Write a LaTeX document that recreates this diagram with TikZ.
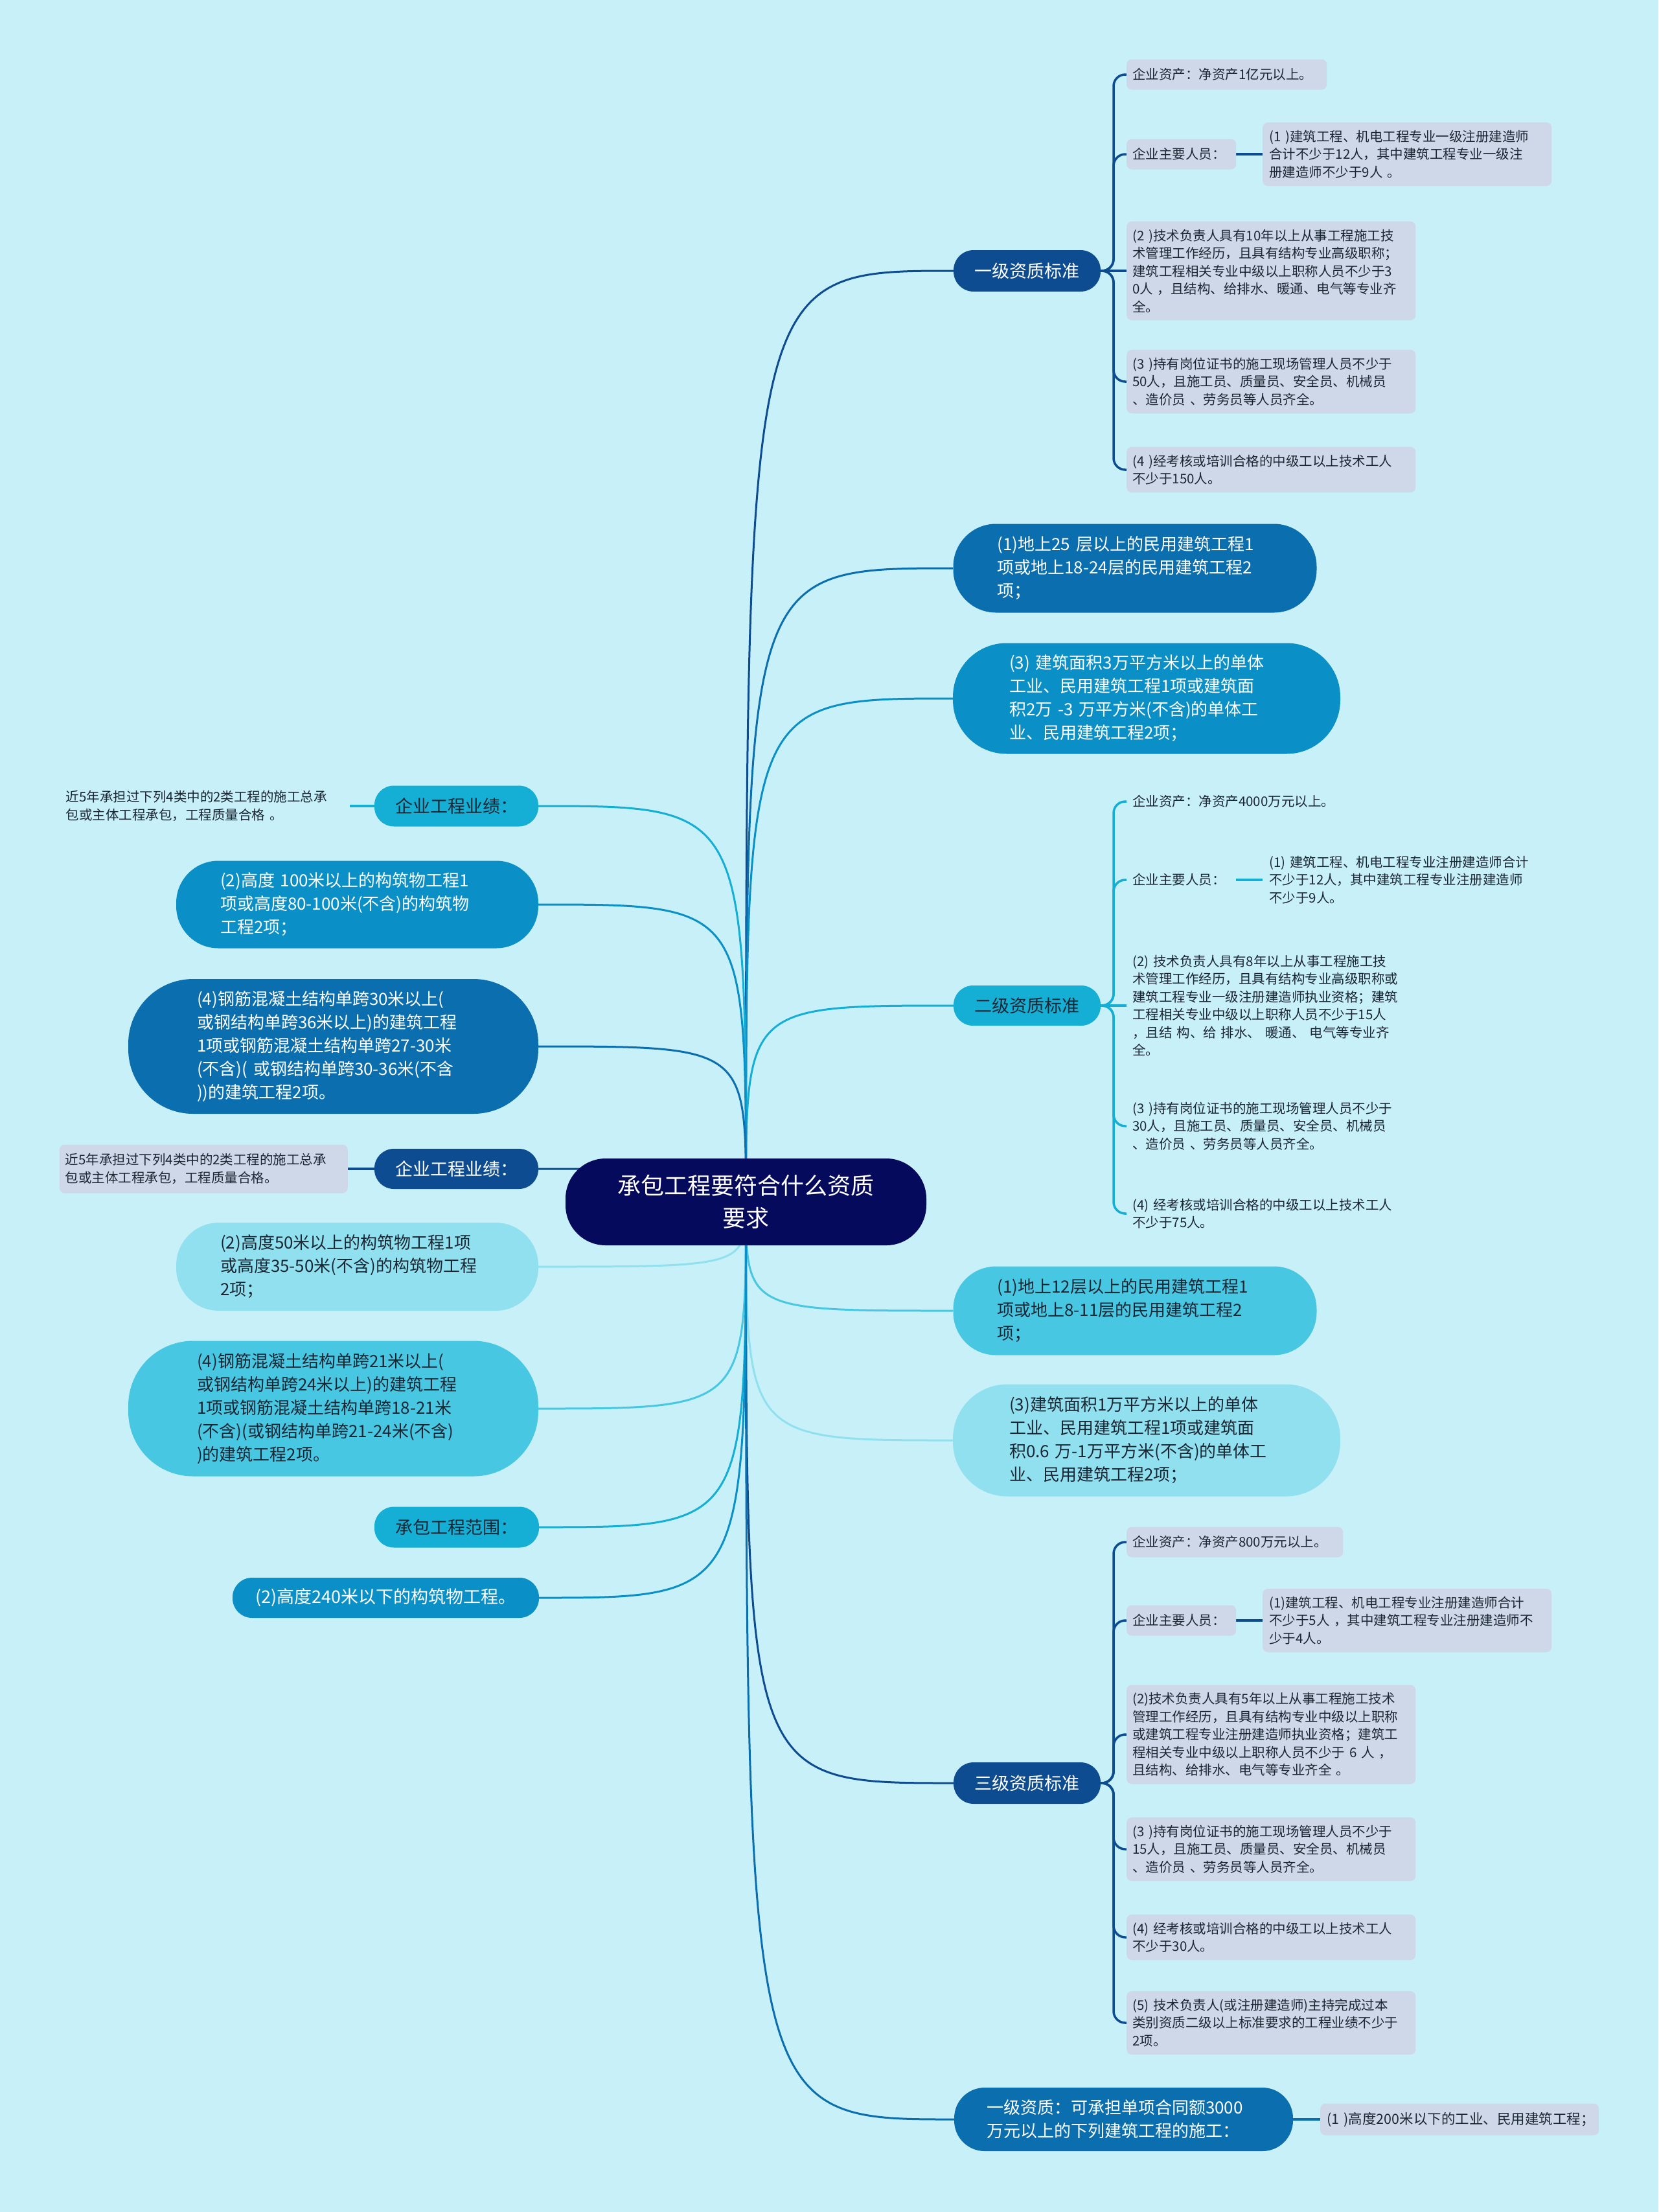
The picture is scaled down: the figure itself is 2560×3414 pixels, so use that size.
\documentclass[tikz,border=0pt]{standalone}
\usepackage{fontspec}
\setmainfont{Noto Sans CJK SC}
\pgfdeclarelayer{back}
\pgfdeclarelayer{lines}
\pgfsetlayers{back,lines,main}
\definecolor{bgc}{HTML}{C8F0F8}
\definecolor{navy}{HTML}{050A5C}
\definecolor{cdark}{HTML}{0E4C91}
\definecolor{cmed}{HTML}{0B6EAE}
\definecolor{cblue}{HTML}{0A90C6}
\definecolor{ccyan}{HTML}{15AED4}
\definecolor{clight}{HTML}{48C7E3}
\definecolor{cpale}{HTML}{90E0EF}
\definecolor{leafbg}{HTML}{CFD8E8}
\definecolor{txtdark}{HTML}{1B2633}
\tikzset{
  big/.style={font=\fontsize{26}{36}\selectfont, align=left, inner ysep=0pt},
  one/.style={font=\fontsize{27}{32}\selectfont, align=center, inner sep=0pt},
  leaf/.style={font=\fontsize{20.5}{27.5}\selectfont, text=txtdark, align=left, inner xsep=9pt, inner ysep=12pt, anchor=west},
  leafbox/.style={leaf, fill=leafbg, rounded corners=8pt},
  link/.style={line width=3pt},
  tree/.style={line width=3.5pt, rounded corners=18pt},
}
\begin{document}
\begin{tikzpicture}[x=1pt,y=-1pt]
\begin{pgfonlayer}{back}
\fill[bgc] (0,0) rectangle (2560,3414);
\end{pgfonlayer}
\useasboundingbox (0,0) rectangle (2560,3414);

% root
\node[fill=navy, text=white, font=\fontsize{36}{50}\selectfont, align=center, inner sep=0pt,
  minimum width=557pt, minimum height=134pt, rounded corners=62pt] (C) at (1151.5,1855)
  {承包工程要符合什么资质\\要求};

% right level-1
\node[one, fill=cdark, text=white, minimum width=227pt, minimum height=64pt, rounded corners=31pt] (R1) at (1585.5,418) {一级资质标准};
\node[big, fill=cmed, text=white, text width=425pt, inner xsep=68pt, minimum height=137pt, rounded corners=66pt] (R2) at (1752,877)
  {(1)地上25 层以上的民用建筑工程1\\项或地上18-24层的民用建筑工程2\\项；};
\node[big, fill=cblue, text=white, text width=424pt, inner xsep=87pt, minimum height=171pt, rounded corners=83pt] (R3) at (1770,1078)
  {(3) 建筑面积3万平方米以上的单体\\工业、民用建筑工程1项或建筑面\\积2万 -3 万平方米(不含)的单体工\\业、民用建筑工程2项；};
\node[one, fill=ccyan, text=txtdark, minimum width=227pt, minimum height=62pt, rounded corners=30pt] (R4) at (1585.5,1552) {二级资质标准};
\node[big, fill=clight, text=txtdark, text width=425pt, inner xsep=68pt, minimum height=137pt, rounded corners=66pt] (R5) at (1752,2023)
  {(1)地上12层以上的民用建筑工程1\\项或地上8-11层的民用建筑工程2\\项；};
\node[big, fill=cpale, text=txtdark, text width=424pt, inner xsep=87pt, minimum height=173pt, rounded corners=84pt] (R6) at (1770,2223)
  {(3)建筑面积1万平方米以上的单体\\工业、民用建筑工程1项或建筑面\\积0.6 万-1万平方米(不含)的单体工\\业、民用建筑工程2项；};
\node[one, fill=cdark, text=white, minimum width=227pt, minimum height=64pt, rounded corners=31pt] (R7) at (1585.5,2752) {三级资质标准};
\node[big, fill=cmed, text=white, text width=423pt, inner xsep=50pt, minimum height=98pt, rounded corners=47pt] (R8) at (1734.5,3271)
  {一级资质：可承担单项合同额3000\\万元以上的下列建筑工程的施工：};

% left level-1
\node[one, fill=ccyan, text=txtdark, minimum width=253pt, minimum height=63pt, rounded corners=30pt] (Lf1) at (704.5,1244) {企业工程业绩：};
\node[big, fill=cblue, text=white, text width=423pt, inner xsep=68pt, minimum height=135pt, rounded corners=65pt] (Lf2) at (551.5,1396)
  {(2)高度 100米以上的构筑物工程1\\项或高度80-100米(不含)的构筑物\\工程2项；};
\node[big, fill=cmed, text=white, text width=421pt, inner xsep=106pt, minimum height=208pt, rounded corners=100pt] (Lf3) at (514.5,1615)
  {(4)钢筋混凝土结构单跨30米以上(\\或钢结构单跨36米以上)的建筑工程\\1项或钢筋混凝土结构单跨27-30米\\(不含)( 或钢结构单跨30-36米(不含\\))的建筑工程2项。};
\node[one, fill=cdark, text=white, minimum width=253pt, minimum height=62pt, rounded corners=30pt] (Lf4) at (704.5,1804) {企业工程业绩：};
\node[big, fill=cpale, text=txtdark, text width=423pt, inner xsep=68pt, minimum height=136pt, rounded corners=66pt] (Lf5) at (551.5,1955)
  {(2)高度50米以上的构筑物工程1项\\或高度35-50米(不含)的构筑物工程\\2项；};
\node[big, fill=clight, text=txtdark, text width=421pt, inner xsep=106pt, minimum height=209pt, rounded corners=100pt] (Lf6) at (514.5,2174)
  {(4)钢筋混凝土结构单跨21米以上(\\或钢结构单跨24米以上)的建筑工程\\1项或钢筋混凝土结构单跨18-21米\\(不含)(或钢结构单跨21-24米(不含)\\)的建筑工程2项。};
\node[one, fill=ccyan, text=txtdark, minimum width=254pt, minimum height=63pt, rounded corners=30pt] (Lf7) at (705,2357) {承包工程范围：};
\node[one, fill=cblue, text=white, minimum width=473pt, minimum height=62pt, rounded corners=30pt] (Lf8) at (595.5,2466) {(2)高度240米以下的构筑物工程。};

% leaves of R1
\node[leafbox, text width=291pt, minimum height=47pt] (L1a) at (1739,115) {企业资产：净资产1亿元以上。};
\node[leafbox, text width=151pt, minimum height=47pt] (L1b) at (1739,238) {企业主要人员：};
\node[leafbox, text width=426pt, inner xsep=10pt] (L1b1) at (1949,238)
  {(1 )建筑工程、机电工程专业一级注册建造师\\合计不少于12人，其中建筑工程专业一级注\\册建造师不少于9人 。};
\node[leafbox, text width=428pt] (L1c) at (1739,418)
  {(2 )技术负责人具有10年以上从事工程施工技\\术管理工作经历，且具有结构专业高级职称；\\建筑工程相关专业中级以上职称人员不少于3\\0人 ，且结构、给排水、暖通、电气等专业齐\\全。};
\node[leafbox, text width=428pt] (L1d) at (1739,589)
  {(3 )持有岗位证书的施工现场管理人员不少于\\50人，且施工员、质量员、安全员、机械员\\、造价员 、劳务员等人员齐全。};
\node[leafbox, text width=428pt] (L1e) at (1739,725)
  {(4 )经考核或培训合格的中级工以上技术工人\\不少于150人。};

% leaves of R4
\node[leaf, text width=360pt] (L2a) at (1739,1237) {企业资产：净资产4000万元以上。};
\node[leaf, text width=151pt] (L2b) at (1739,1358) {企业主要人员：};
\node[leaf, text width=426pt, inner xsep=10pt] (L2b1) at (1949,1358)
  {(1) 建筑工程、机电工程专业注册建造师合计\\不少于12人，其中建筑工程专业注册建造师\\不少于9人。};
\node[leaf, text width=428pt] (L2c) at (1739,1552)
  {(2) 技术负责人具有8年以上从事工程施工技\\术管理工作经历，且具有结构专业高级职称或\\建筑工程专业一级注册建造师执业资格；建筑\\工程相关专业中级以上职称人员不少于15人\\，且结 构、给 排水、 暖通、 电气等专业齐\\全。};
\node[leaf, text width=428pt] (L2d) at (1739,1738)
  {(3 )持有岗位证书的施工现场管理人员不少于\\30人，且施工员、质量员、安全员、机械员\\、造价员 、劳务员等人员齐全。};
\node[leaf, text width=428pt] (L2e) at (1739,1873)
  {(4) 经考核或培训合格的中级工以上技术工人\\不少于75人。};

% leaves of R7
\node[leafbox, text width=316pt, minimum height=47pt] (L3a) at (1739,2380) {企业资产：净资产800万元以上。};
\node[leafbox, text width=151pt, minimum height=47pt] (L3b) at (1739,2501) {企业主要人员：};
\node[leafbox, text width=426pt, inner xsep=10pt] (L3b1) at (1949,2501)
  {(1)建筑工程、机电工程专业注册建造师合计\\不少于5人 ，其中建筑工程专业注册建造师不\\少于4人。};
\node[leafbox, text width=428pt] (L3c) at (1739,2677)
  {(2)技术负责人具有5年以上从事工程施工技术\\管理工作经历，且具有结构专业中级以上职称\\或建筑工程专业注册建造师执业资格；建筑工\\程相关专业中级以上职称人员不少于 6 人 ，\\且结构、给排水、电气等专业齐全 。};
\node[leafbox, text width=428pt] (L3d) at (1739,2854)
  {(3 )持有岗位证书的施工现场管理人员不少于\\15人，且施工员、质量员、安全员、机械员\\、造价员 、劳务员等人员齐全。};
\node[leafbox, text width=428pt] (L3e) at (1739,2990)
  {(4) 经考核或培训合格的中级工以上技术工人\\不少于30人。};
\node[leafbox, text width=428pt] (L3f) at (1739,3122)
  {(5) 技术负责人(或注册建造师)主持完成过本\\类别资质二级以上标准要求的工程业绩不少于\\2项。};

% leaf of R8
\node[leafbox, text width=410pt, inner xsep=10pt, minimum height=49pt, font=\fontsize{21.5}{27.5}\selectfont] (L8a) at (2038,3271)
  {(1 )高度200米以下的工业、民用建筑工程；};

% leaves on left
\node[leaf, anchor=east, text width=429pt] (Lf1a) at (540,1244)
  {近5年承担过下列4类中的2类工程的施工总承\\包或主体工程承包，工程质量合格 。};
\node[leafbox, anchor=east, text width=427pt, minimum height=75pt] (Lf4a) at (537,1804)
  {近5年承担过下列4类中的2类工程的施工总承\\包或主体工程承包，工程质量合格。};

\coordinate (sp1) at (1719,418);
\coordinate (sp4) at (1719,1552);
\coordinate (sp7) at (1719,2752);

\begin{pgfonlayer}{lines}
% root links, right
\draw[link, cdark]  (C.center) .. controls (C.center |- R1.west) and (C.center |- R1.west) .. (R1.west);
\draw[link, cmed]   (C.center) .. controls (C.center |- R2.west) and (C.center |- R2.west) .. (R2.west);
\draw[link, cblue]  (C.center) .. controls (C.center |- R3.west) and (C.center |- R3.west) .. (R3.west);
\draw[link, ccyan]  (C.center) .. controls (C.center |- R4.west) and (C.center |- R4.west) .. (R4.west);
\draw[link, clight] (C.center) .. controls (C.center |- R5.west) and (C.center |- R5.west) .. (R5.west);
\draw[link, cpale]  (C.center) .. controls (C.center |- R6.west) and (C.center |- R6.west) .. (R6.west);
\draw[link, cdark]  (C.center) .. controls (C.center |- R7.west) and (C.center |- R7.west) .. (R7.west);
\draw[link, cmed]   (C.center) .. controls (C.center |- R8.west) and (C.center |- R8.west) .. (R8.west);
% root links, left
\draw[link, ccyan]  (C.center) .. controls (C.center |- Lf1.east) and (C.center |- Lf1.east) .. (Lf1.east);
\draw[link, cblue]  (C.center) .. controls (C.center |- Lf2.east) and (C.center |- Lf2.east) .. (Lf2.east);
\draw[link, cmed]   (C.center) .. controls (C.center |- Lf3.east) and (C.center |- Lf3.east) .. (Lf3.east);
\draw[link, cdark]  (C.center) .. controls (C.center |- Lf4.east) and (C.center |- Lf4.east) .. (Lf4.east);
\draw[link, cpale]  (C.center) .. controls (C.center |- Lf5.east) and (C.center |- Lf5.east) .. (Lf5.east);
\draw[link, clight] (C.center) .. controls (C.center |- Lf6.east) and (C.center |- Lf6.east) .. (Lf6.east);
\draw[link, ccyan]  (C.center) .. controls (C.center |- Lf7.east) and (C.center |- Lf7.east) .. (Lf7.east);
\draw[link, cblue]  (C.center) .. controls (C.center |- Lf8.east) and (C.center |- Lf8.east) .. (Lf8.east);
% R1 tree
\draw[tree, cdark] (R1.east) -- (sp1) |- (L1a.west);
\draw[tree, cdark] (R1.east) -- (sp1) |- (L1b.west);
\draw[tree, cdark] (R1.east) -- (L1c.west);
\draw[tree, cdark] (R1.east) -- (sp1) |- (L1d.west);
\draw[tree, cdark] (R1.east) -- (sp1) |- (L1e.west);
\draw[tree, cdark] (L1b.east) -- (L1b1.west);
% R4 tree
\draw[tree, ccyan] (R4.east) -- (sp4) |- (L2a.west);
\draw[tree, ccyan] (R4.east) -- (sp4) |- (L2b.west);
\draw[tree, ccyan] (R4.east) -- (L2c.west);
\draw[tree, ccyan] (R4.east) -- (sp4) |- (L2d.west);
\draw[tree, ccyan] (R4.east) -- (sp4) |- (L2e.west);
\draw[tree, ccyan] (L2b.east) -- (L2b1.west);
% R7 tree
\draw[tree, cdark] (R7.east) -- (sp7) |- (L3a.west);
\draw[tree, cdark] (R7.east) -- (sp7) |- (L3b.west);
\draw[tree, cdark] (R7.east) -- (sp7) |- (L3c.west);
\draw[tree, cdark] (R7.east) -- (sp7) |- (L3d.west);
\draw[tree, cdark] (R7.east) -- (sp7) |- (L3e.west);
\draw[tree, cdark] (R7.east) -- (sp7) |- (L3f.west);
\draw[tree, cdark] (L3b.east) -- (L3b1.west);
% other stubs
\draw[tree, cmed] (R8.east) -- (L8a.west);
\draw[tree, ccyan] (Lf1a.east) -- (Lf1.west);
\draw[tree, cdark] (Lf4a.east) -- (Lf4.west);
\end{pgfonlayer}
\end{tikzpicture}
\end{document}
